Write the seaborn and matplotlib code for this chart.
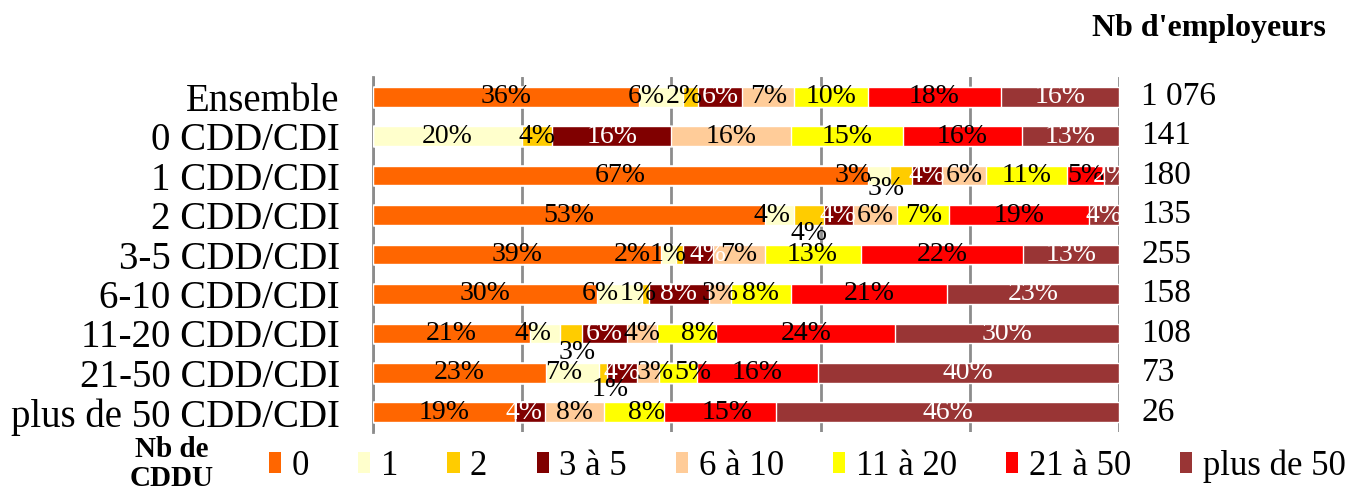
import numpy as np
import pandas as pd
import seaborn as sns
from matplotlib import pyplot as plt
from matplotlib.patches import Patch
from matplotlib.ticker import FixedLocator
from matplotlib.transforms import blended_transform_factory

# Rows (nb of CDD/CDI) and CDDU classes
rows = ["Ensemble", "0 CDD/CDI", "1 CDD/CDI", "2 CDD/CDI", "3-5 CDD/CDI",
        "6-10 CDD/CDI", "11-20 CDD/CDI", "21-50 CDD/CDI", "plus de 50 CDD/CDI"]
categories = ["0", "1", "2", "3 à 5", "6 à 10", "11 à 20", "21 à 50", "plus de 50"]

# shares (%) per CDDU class, one value per row
pct_0 = [36, 0, 67, 53, 39, 30, 21, 23, 19]
pct_1 = [6, 20, 3, 4, 2, 6, 4, 7, 0]
pct_2 = [2, 4, 3, 4, 1, 1, 3, 1, 0]
pct_3_5 = [6, 16, 4, 4, 4, 8, 6, 4, 4]
pct_6_10 = [7, 16, 6, 6, 7, 3, 4, 3, 8]
pct_11_20 = [10, 15, 11, 7, 13, 8, 8, 5, 8]
pct_21_50 = [18, 16, 5, 19, 22, 21, 24, 16, 15]
pct_50p = [16, 13, 2, 4, 13, 23, 30, 40, 46]

employers = ["1 076", "141", "180", "135", "255", "158", "108", "73", "26"]

colors = ["#FF6600", "#FFFFCC", "#FFCC00", "#800000",
          "#FFCC99", "#FFFF00", "#FF0000", "#993535"]
white_text = {"3 à 5", "plus de 50"}

# manual label moves (row, class) -> (dx in %, dy in rows), as in the original
label_moves = {
    (0, 1): (-2, 0), (0, 2): (-0.8, 0),
    (2, 1): (-3.5, 0), (2, 2): (-2, 0.33),
    (3, 1): (-1, 0), (3, 2): (0, 0.48),
    (4, 1): (-4.8, 0), (4, 2): (-1.5, 0), (4, 3): (1.3, 0),
    (5, 1): (-2.5, 0), (5, 2): (-1, 0),
    (6, 1): (-1.6, 0), (6, 2): (0.8, 0.48), (6, 5): (1.8, 0),
    (7, 1): (-1.2, 0), (7, 2): (1, 0.43), (7, 4): (1, 0), (7, 5): (2, 0),
    (8, 3): (-0.8, 0), (8, 5): (1.7, 0), (8, 6): (1, 0),
}

sns.set_style("white")
plt.rcParams["font.family"] = ["Liberation Serif", "DejaVu Serif"]
plt.rcParams["text.color"] = "black"
plt.rcParams["ytick.labelcolor"] = "black"

values = np.array([pct_0, pct_1, pct_2, pct_3_5, pct_6_10,
                   pct_11_20, pct_21_50, pct_50p], dtype=float).T
# 100% stacked: normalise each row
shares = values / values.sum(axis=1, keepdims=True) * 100
cum = shares.cumsum(axis=1)

fig = plt.figure(figsize=(13.65, 4.95), dpi=100)
ax = fig.add_axes([0.2733, 0.1273, 0.5465, 0.7171])

# draw cumulative bars from the right-most class down to the first
for k in range(len(categories) - 1, -1, -1):
    df = pd.DataFrame({"row": rows, "cum": cum[:, k]})
    sns.barplot(data=df, x="cum", y="row", order=rows, orient="h",
                color=colors[k], saturation=1, width=0.5, errorbar=None,
                ax=ax, zorder=3)

# data labels
for i in range(len(rows)):
    for k, cat in enumerate(categories):
        v = values[i, k]
        if v == 0:
            continue
        dx, dy = label_moves.get((i, k), (0, 0))
        xc = cum[i, k] - shares[i, k] / 2 + dx
        ax.text(xc, i + dy, f"{v:.0f}%", ha="center", va="center",
                fontsize=20, color="white" if cat in white_text else "black",
                zorder=5)

ax.set_xlim(0, 100)
ax.set_ylim(len(rows) - 0.5, -0.5)
ax.set_xlabel("")
ax.set_ylabel("")

ax.set_xticks([0, 20, 40, 60, 80, 100])
ax.tick_params(axis="x", length=0, labelbottom=False)
ax.xaxis.grid(True, color="#8c8c8c", linewidth=2)
ax.set_axisbelow(True)

ax.yaxis.set_minor_locator(FixedLocator(np.arange(-0.5, len(rows), 1.0)))
ax.tick_params(axis="y", which="major", length=0, labelsize=28, pad=24,
               labelcolor="black")
ax.tick_params(axis="y", which="minor", length=7, width=2, color="#8c8c8c",
               direction="out")

for side in ["top", "right", "bottom"]:
    ax.spines[side].set_visible(False)
ax.spines["left"].set_color("#8c8c8c")
ax.spines["left"].set_linewidth(2)

# number of employers on the right
trans = blended_transform_factory(ax.transAxes, ax.transData)
for i, n in enumerate(employers):
    ax.text(1.03, i, n, transform=trans, ha="left", va="center",
            fontsize=24, clip_on=False)
fig.text(0.886, 0.943, "Nb d'employeurs", ha="center", va="center",
         fontsize=23, fontweight="bold")

# legend
fig.text(0.126, 0.062, "Nb de\nCDDU", ha="center", va="center",
         fontsize=21, fontweight="bold", linespacing=1.1)
handles = [Patch(facecolor=c, edgecolor="none") for c in colors]
fig.legend(handles, categories, loc="center left", bbox_to_anchor=(0.197, 0.058),
           ncol=len(categories), frameon=False, fontsize=25,
           handlelength=0.35, handleheight=0.55, handletextpad=0.3,
           columnspacing=1.42, borderaxespad=0, borderpad=0)

fig.savefig("out.png", dpi=100)
